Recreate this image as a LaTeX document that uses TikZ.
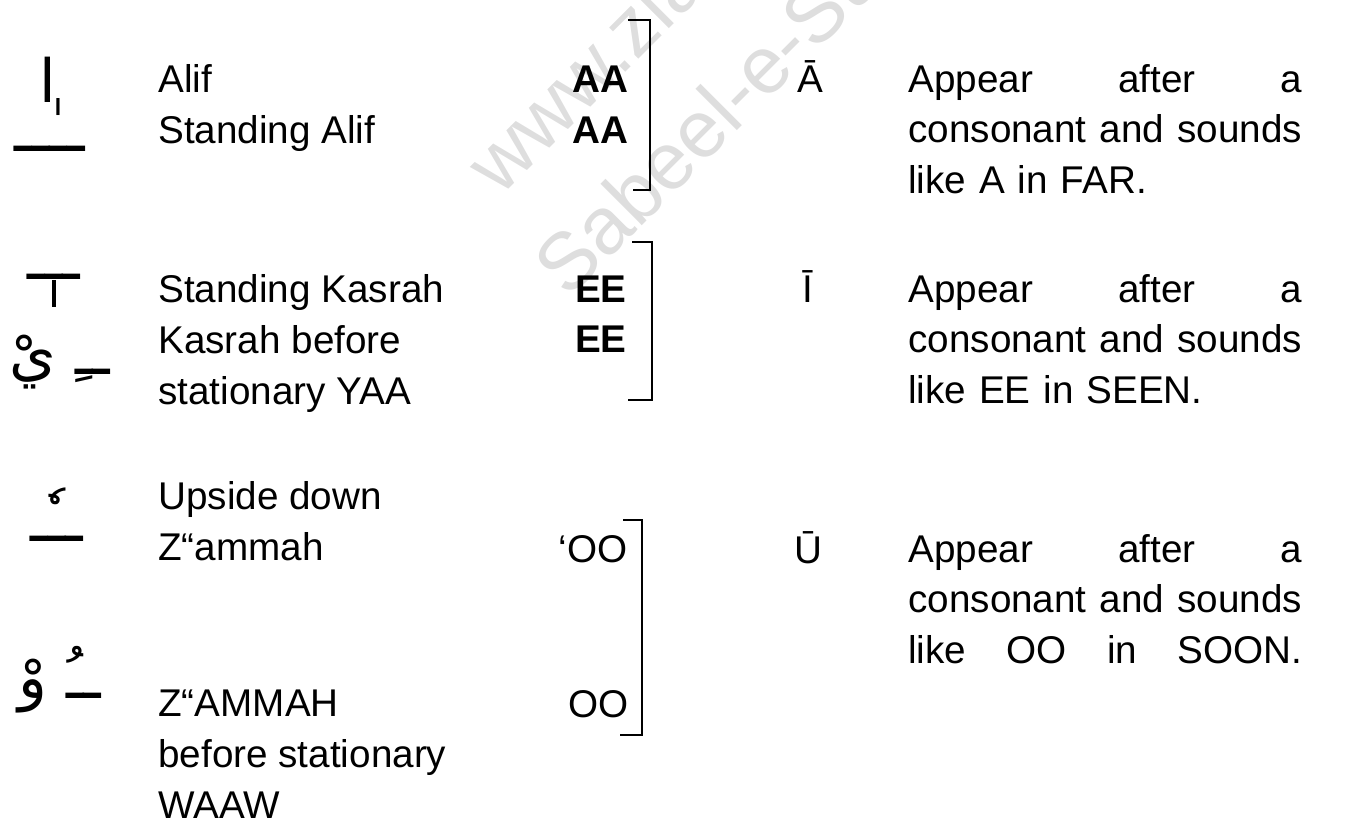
\documentclass[tikz,border=0pt]{standalone}
\usepackage{fontspec}
\setmainfont{Liberation Sans}
\newfontfamily\arabicfont[Script=Arabic]{DejaVu Sans}
\TeXXeTstate=1
\begin{document}
\begin{tikzpicture}[x=0.02cm,y=-0.02cm,
  every node/.style={inner sep=0pt,font=\fontsize{22}{29}\selectfont},
  namebox/.style={anchor=base west,align=left},
  soundbox/.style={anchor=base east},
  vowel/.style={anchor=base west},
  descr/.style={anchor=base west,align=left,text width=7.88cm},
  glyph/.style={font=\arabicfont\fontsize{34}{34}\selectfont},
  kasrahstem/.style={line width=2.2pt},
  wmark/.style={anchor=base west,rotate=45,text=black!13,font=\fontsize{46}{46}\selectfont},
  bracketline/.style={line width=1.2pt}]
\useasboundingbox (0,0) rectangle (1355,823);
\node[wmark] (web) at (500,198) {www.ziaislamic.com};
\node[wmark] (sabeel) at (568,300) {Sabeel-e-Sunnat};
\node[glyph] (alif) at (48,80) {\beginR ا\endR};
\node[glyph] (standalif) at (50,125) {\beginR ــٰــ\endR};
\node[glyph] (standkasrah) at (54,277) {\beginR ـــ\endR};
\draw[kasrahstem] (standkasrah.south) -- ++(0,27);
\node[glyph] (kasrahyaa) at (60,362) {\beginR ــِ يْ\endR};
\node[glyph] (invdammah) at (57,515) {\beginR ــٗـ\endR};
\node[glyph] (dammahwaw) at (60,680) {\beginR ــُ وْ\endR};
\node[namebox] (n1) at (158,143) {Alif\\Standing Alif};
\node[namebox] (n2) at (158,404) {Standing Kasrah\\Kasrah before\\stationary YAA};
\node[namebox] (n3) at (158,560) {Upside down\\Z“ammah};
\node[namebox] (n4) at (158,818) {Z“AMMAH\\before stationary\\WAAW};
\node[soundbox] (aa1) at (629,92) {\textbf{AA}};
\node[soundbox] (aa2) at (629,143) {\textbf{AA}};
\node[soundbox] (ee1) at (627,302) {\textbf{EE}};
\node[soundbox] (ee2) at (627,352) {\textbf{EE}};
\node[soundbox] (oo1) at (628,562) {‘OO};
\node[soundbox] (oo2) at (629,717) {OO};
\draw[bracketline] (628,20) -- (650,20) -- (650,190) -- (633,190);
\draw[bracketline] (632,242) -- (652,242) -- (652,400) -- (628,400);
\draw[bracketline] (623,520) -- (642,520) -- (642,735) -- (620,735);
\node[vowel] (along) at (797,92) {\=A};
\node[vowel] (ilong) at (802,302) {\=I};
\node[vowel] (ulong) at (794,563) {\=U};
\node[descr] (d1) at (908,92) {Appear\hfill after\hfill a\\consonant\hfill and\hfill sounds\\like A in FAR.};
\node[descr] (d2) at (908,302) {Appear\hfill after\hfill a\\consonant\hfill and\hfill sounds\\like EE in SEEN.};
\node[descr] (d3) at (908,562) {Appear\hfill after\hfill a\\consonant\hfill and\hfill sounds\\like\hfill OO\hfill in\hfill SOON.};
\end{tikzpicture}
\end{document}
